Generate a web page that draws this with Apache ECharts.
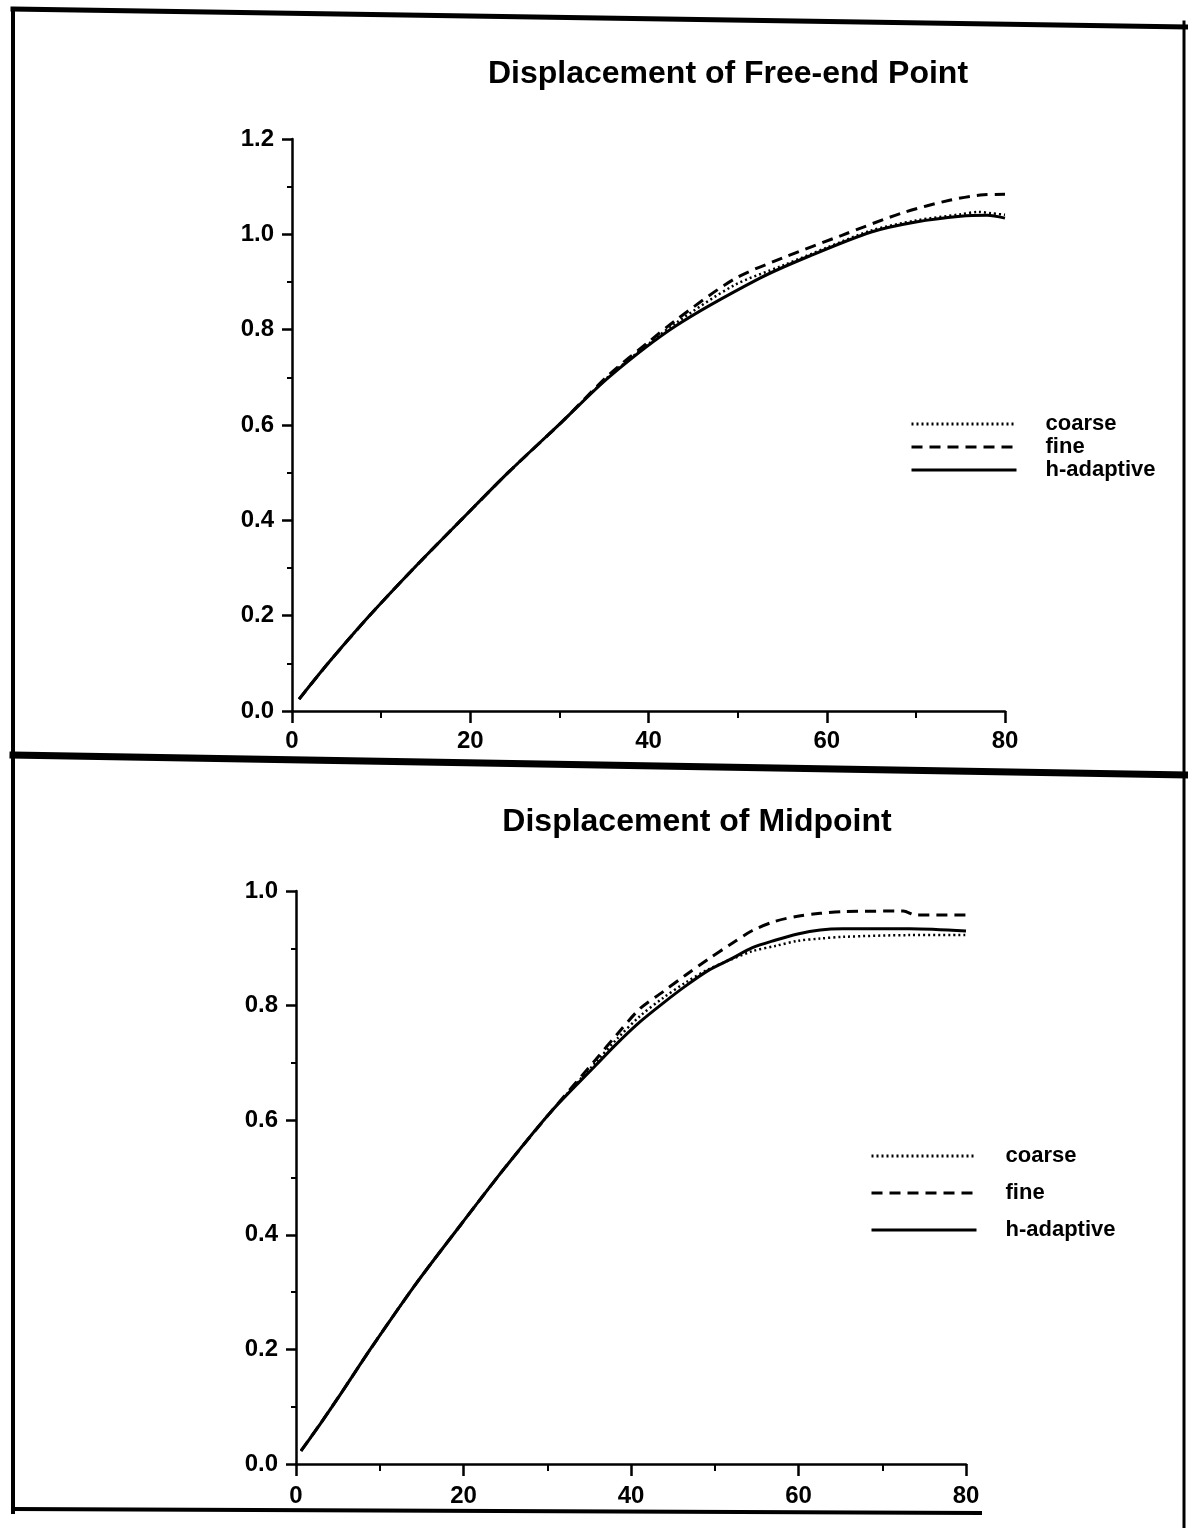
<!DOCTYPE html>
<html>
<head>
<meta charset="utf-8">
<title>Displacement</title>
<script src="https://cdn.jsdelivr.net/npm/echarts@6/dist/echarts.min.js"></script>
<style>
  html, body { margin: 0; padding: 0; background: #fff; }
  #chart { width: 1188px; height: 1528px; }
</style>
</head>
<body>
<div id="chart"></div>
<script>
// Series names shared by both panels
const seriesNames = ['coarse', 'fine', 'h-adaptive'];

// Displacement of free-end point: [time step, displacement]
const freeEndCoarse = [
  [0.8, 0.025], [4.0, 0.099], [8.6, 0.198], [13.7, 0.300], [19.1, 0.403],
  [24.3, 0.501], [30.2, 0.605], [35.6, 0.703], [40.0, 0.770], [43.0, 0.813],
  [49.6, 0.893], [55.0, 0.934], [60.0, 0.972], [65.0, 1.008], [70.0, 1.029],
  [75.0, 1.042], [77.0, 1.047], [78.5, 1.044], [80, 1.041]
];
const freeEndFine = [
  [0.8, 0.025], [4.0, 0.099], [8.6, 0.198], [13.7, 0.300], [19.1, 0.403],
  [24.3, 0.501], [30.2, 0.605], [35.6, 0.706], [40.0, 0.774], [43.0, 0.819],
  [49.6, 0.906], [55.0, 0.950], [61.7, 0.998], [68.5, 1.045], [73.9, 1.072],
  [77.6, 1.083], [80, 1.084]
];
const freeEndAdaptive = [
  [0.8, 0.025], [4.0, 0.099], [8.6, 0.198], [13.7, 0.300], [19.1, 0.403],
  [24.3, 0.501], [30.2, 0.605], [35.6, 0.701], [43.0, 0.807], [52.5, 0.908],
  [58.0, 0.954], [65.0, 1.005], [70.0, 1.026], [75.0, 1.038], [78.0, 1.040],
  [80, 1.034]
];

// Displacement of midpoint: [time step, displacement]
const midCoarse = [
  [0.6, 0.023], [2.8, 0.068], [5.5, 0.126], [9.0, 0.203], [14.3, 0.314],
  [19.7, 0.418], [25.0, 0.518], [30.4, 0.614], [35.8, 0.701], [38.4, 0.743],
  [41.1, 0.782], [43.8, 0.813], [46.5, 0.840], [49.2, 0.863], [51.9, 0.880],
  [54.5, 0.895], [57.2, 0.904], [59.9, 0.913], [62.6, 0.917], [65.3, 0.920],
  [73.3, 0.923], [80, 0.923]
];
const midFine = [
  [0.6, 0.023], [2.8, 0.068], [5.5, 0.126], [9.0, 0.203], [14.3, 0.314],
  [19.7, 0.418], [25.0, 0.518], [30.4, 0.614], [35.8, 0.706], [38.4, 0.751],
  [41.1, 0.795], [43.8, 0.824], [46.5, 0.853], [49.2, 0.881], [51.9, 0.907],
  [54.5, 0.931], [57.2, 0.947], [59.9, 0.956], [62.6, 0.961], [65.3, 0.964],
  [72.5, 0.965], [74.0, 0.958], [80, 0.958]
];
const midAdaptive = [
  [0.6, 0.023], [2.8, 0.068], [5.5, 0.126], [9.0, 0.203], [14.3, 0.314],
  [19.7, 0.418], [25.0, 0.518], [30.4, 0.614], [35.8, 0.696], [38.4, 0.735],
  [41.1, 0.772], [43.8, 0.804], [46.5, 0.834], [49.2, 0.861], [51.9, 0.881],
  [54.5, 0.901], [57.2, 0.914], [59.9, 0.925], [62.6, 0.932], [65.3, 0.934],
  [73.3, 0.934], [80, 0.930]
];

// Axis ranges
const xRange = { min: 0, max: 80, interval: 20 };
const freeEndY = { min: 0, max: 1.2, interval: 0.2 };
const midY = { min: 0, max: 1.0, interval: 0.2 };

const FONT = "'Liberation Sans', Arial, Helvetica, sans-serif";
const INK = '#000';

const lineStyles = {
  'coarse': { color: INK, width: 2.5, type: [2, 3] },
  'fine': { color: INK, width: 3, type: [11, 7] },
  'h-adaptive': { color: INK, width: 3, type: 'solid' }
};

function xAxis(gridIndex, labelMargin) {
  return {
    type: 'value', gridIndex,
    min: xRange.min, max: xRange.max, interval: xRange.interval,
    axisLine: { show: true, lineStyle: { color: INK, width: 2.5 } },
    axisTick: { show: true, length: 12, lineStyle: { color: INK, width: 2.5 } },
    minorTick: { show: true, splitNumber: 2, length: 7, lineStyle: { color: INK, width: 2 } },
    splitLine: { show: false },
    axisLabel: { color: INK, fontFamily: FONT, fontWeight: 'bold', fontSize: 24, margin: labelMargin }
  };
}

function yAxis(gridIndex, range) {
  return {
    type: 'value', gridIndex,
    min: range.min, max: range.max, interval: range.interval,
    axisLine: { show: true, lineStyle: { color: INK, width: 2.5 } },
    axisTick: { show: true, length: 10, lineStyle: { color: INK, width: 2.5 } },
    minorTick: { show: true, splitNumber: 2, length: 5, lineStyle: { color: INK, width: 2 } },
    splitLine: { show: false },
    axisLabel: {
      color: INK, fontFamily: FONT, fontWeight: 'bold', fontSize: 24, margin: 18,
      formatter: v => v.toFixed(1)
    }
  };
}

function series(name, data, idx) {
  return {
    name, type: 'line', data,
    xAxisIndex: idx, yAxisIndex: idx,
    showSymbol: false, symbol: 'none',
    smooth: 0.3,
    lineStyle: lineStyles[name],
    itemStyle: { color: INK },
    z: name === 'h-adaptive' ? 3 : 2,
    animation: false
  };
}

// Legend keys are plain line samples: the point marker is made invisible
function legend(left, top, itemHeight, itemGap) {
  return {
    orient: 'vertical', left, top,
    data: seriesNames,
    itemWidth: 105, itemHeight, itemGap,
    selectedMode: false,
    itemStyle: { color: 'rgba(0,0,0,0)', borderWidth: 0, opacity: 0 },
    lineStyle: { color: INK, width: 3 },
    textStyle: {
      color: INK, fontFamily: FONT, fontWeight: 'bold', fontSize: 22,
      padding: [0, 0, 0, 24]
    }
  };
}

const frame = { type: 'line', silent: true, style: { stroke: INK, lineCap: 'square' } };
function frameLine(x1, y1, x2, y2, w) {
  return Object.assign({}, frame, {
    shape: { x1, y1, x2, y2 },
    style: Object.assign({}, frame.style, { lineWidth: w })
  });
}

const option = {
  backgroundColor: '#fff',
  animation: false,
  title: [
    {
      text: 'Displacement of Free-end Point', left: 723, top: 53, textAlign: 'center',
      textStyle: { color: INK, fontFamily: FONT, fontWeight: 'bold', fontSize: 32 }
    },
    {
      text: 'Displacement of Midpoint', left: 692, top: 801, textAlign: 'center',
      textStyle: { color: INK, fontFamily: FONT, fontWeight: 'bold', fontSize: 32 }
    }
  ],
  grid: [
    { left: 292, right: 183, top: 139, height: 572, containLabel: false },
    { left: 296, right: 222, top: 891, height: 573, containLabel: false }
  ],
  xAxis: [xAxis(0, 18), xAxis(1, 20)],
  yAxis: [yAxis(0, freeEndY), yAxis(1, midY)],
  legend: [legend(905, 408, 25, 1), legend(865, 1140, 25, 15)],
  series: [
    series('coarse', freeEndCoarse, 0),
    series('fine', freeEndFine, 0),
    series('h-adaptive', freeEndAdaptive, 0),
    series('coarse', midCoarse, 1),
    series('fine', midFine, 1),
    series('h-adaptive', midAdaptive, 1)
  ],
  graphic: [
    frameLine(13, 9, 1188, 27, 5),
    frameLine(13, 9, 13, 1512, 4),
    frameLine(13, 755, 1188, 775, 7),
    frameLine(13, 1509, 980, 1513, 4),
    frameLine(1184, 22, 1184, 1528, 3)
  ]
};

const chart = echarts.init(document.getElementById('chart'), null, { renderer: 'canvas' });
chart.setOption(option);
</script>
</body>
</html>
